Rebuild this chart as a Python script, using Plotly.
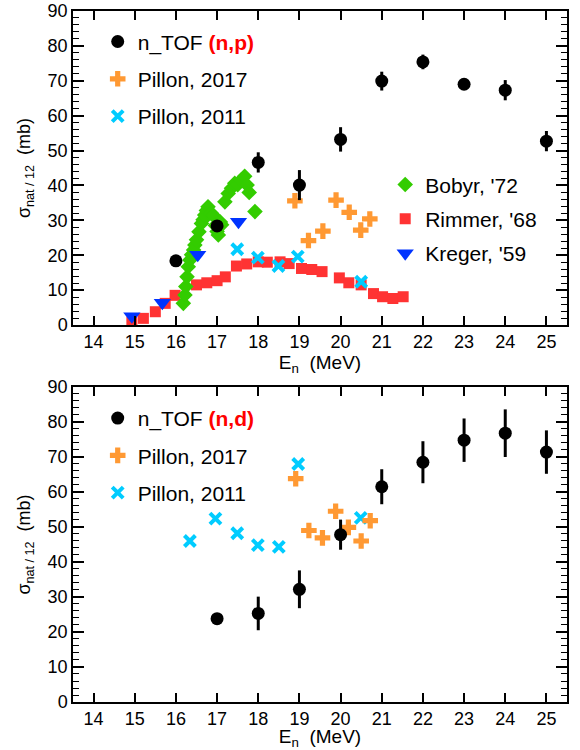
import plotly.graph_objects as go

# ---------------- (n,p) panel data ----------------
ntof_np_x = [16, 17, 18, 19, 20, 21, 22, 23, 24, 25]
ntof_np_y = [18.4, 28.4, 46.6, 40.1, 53.2, 69.9, 75.4, 69.0, 67.3, 52.7]
ntof_np_err = [0.8, 0.8, 2.9, 4.3, 3.5, 2.7, 2.1, 1.5, 2.9, 2.9]

pillon17_np_x = [18.89, 19.22, 19.57, 19.89, 20.21, 20.49, 20.71]
pillon17_np_y = [35.6, 24.2, 26.9, 35.8, 32.3, 27.2, 30.4]

pillon11_np_x = [17.49, 17.99, 18.49, 18.96, 20.50]
pillon11_np_y = [21.7, 19.3, 16.9, 19.6, 12.4]

bobyr_x = [16.18, 16.22, 16.24, 16.27, 16.30, 16.34, 16.38, 16.43, 16.46, 16.50,
           16.56, 16.62, 16.66, 16.70, 16.74, 16.78, 16.86, 16.90, 16.96, 17.00,
           17.03, 17.08, 17.11, 17.19, 17.27, 17.35, 17.43, 17.50, 17.59, 17.67,
           17.73, 17.78, 17.92]
bobyr_y = [6.2, 8.6, 11.0, 13.8, 16.7, 18.6, 20.1, 21.5, 22.9, 24.4,
           26.7, 29.1, 30.2, 31.5, 32.8, 33.9, 32.0, 31.5, 28.5, 26.8,
           25.8, 29.5, 28.7, 35.3, 37.7, 39.2, 40.6, 40.2, 41.6, 42.6,
           40.1, 38.0, 32.5]

rimmer_x = [14.93, 15.21, 15.50, 15.74, 15.98, 16.50, 16.75, 17.00, 17.20, 17.47,
            17.72, 18.00, 18.22, 18.53, 18.75, 19.05, 19.30, 19.55, 19.97, 20.20,
            20.50, 20.80, 21.02, 21.27, 21.52]
rimmer_y = [0.9, 1.9, 3.8, 6.2, 8.5, 11.5, 12.1, 12.7, 13.8, 16.9,
            17.5, 18.1, 18.0, 18.1, 17.6, 16.2, 15.9, 15.3, 13.5, 12.1,
            11.5, 9.0, 8.1, 7.6, 8.1]

kreger_x = [14.93, 15.67, 16.53, 17.52]
kreger_y = [2.5, 6.4, 20.1, 29.6]

# ---------------- (n,d) panel data ----------------
ntof_nd_x = [17, 18, 19, 20, 21, 22, 23, 24, 25]
ntof_nd_y = [23.8, 25.3, 32.2, 47.8, 61.5, 68.5, 74.8, 76.8, 71.4]
ntof_nd_err = [0.8, 4.8, 5.4, 4.3, 5.0, 6.0, 6.2, 6.8, 6.2]

pillon17_nd_x = [18.91, 19.23, 19.56, 19.88, 20.19, 20.50, 20.72]
pillon17_nd_y = [63.8, 49.0, 46.9, 54.5, 49.9, 46.0, 51.8]

pillon11_nd_x = [16.34, 16.96, 17.49, 17.99, 18.50, 18.97, 20.49]
pillon11_nd_y = [46.0, 52.4, 48.2, 44.8, 44.3, 68.0, 52.6]

x_ticks = list(range(14, 26))

# ---------------- styles ----------------
C_BLACK = "black"
C_ORANGE = "#ff9933"
C_CYAN = "#00ccff"
C_GREEN = "#33cc00"
C_RED = "#ff3333"
C_BLUE = "#0033ff"
FONT = "Liberation Sans, Arial, Helvetica, sans-serif"

fig = go.Figure()

def add(x, y, name, symbol, color, size, xa, ya, legend, rank, err=None, lw=0):
    kw = {}
    if err is not None:
        kw["error_y"] = dict(type="data", array=err, visible=True,
                             color=color, thickness=3, width=0)
    fig.add_trace(go.Scatter(
        x=x, y=y, mode="markers", name=name,
        marker=dict(symbol=symbol, color=color, size=size,
                    line=dict(width=lw, color=color)),
        xaxis=xa, yaxis=ya, legend=legend, legendgroup=name + legend,
        legendrank=rank, **kw))

# top panel (n,p)
add(rimmer_x, rimmer_y, "Rimmer, '68", "square", C_RED, 11, "x", "y", "legend2", 2)
add(bobyr_x, bobyr_y, "Bobyr, '72", "diamond", C_GREEN, 12, "x", "y", "legend2", 1)
add(kreger_x, kreger_y, "Kreger, '59", "triangle-down", C_BLUE, 15, "x", "y", "legend2", 3)
add(pillon11_np_x, pillon11_np_y, "Pillon, 2011", "x-thin", C_CYAN, 11, "x", "y", "legend", 3, lw=4)
add(pillon17_np_x, pillon17_np_y, "Pillon, 2017", "cross", C_ORANGE, 13, "x", "y", "legend", 2)
add(ntof_np_x, ntof_np_y,
    "n_TOF <b><span style='color:#ff0000'>(n,p)</span></b>", "circle", C_BLACK, 13,
    "x", "y", "legend", 1, err=ntof_np_err)

# bottom panel (n,d)
add(pillon11_nd_x, pillon11_nd_y, "Pillon, 2011", "x-thin", C_CYAN, 11, "x2", "y2", "legend3", 3, lw=4)
add(pillon17_nd_x, pillon17_nd_y, "Pillon, 2017", "cross", C_ORANGE, 13, "x2", "y2", "legend3", 2)
add(ntof_nd_x, ntof_nd_y,
    "n_TOF <b><span style='color:#ff0000'>(n,d)</span></b>", "circle", C_BLACK, 13,
    "x2", "y2", "legend3", 1, err=ntof_nd_err)

xcommon = dict(range=[13.5, 25.5], tickvals=x_ticks, ticks="inside", ticklen=9,
               tickwidth=1.5, tickcolor="black", showline=True, linecolor="black",
               linewidth=1.5, mirror="ticks", showgrid=False, zeroline=False,
               automargin=False, ticklabelstandoff=0,
               tickfont=dict(size=18, color="black"))
ycommon = dict(range=[0, 90], dtick=10, ticks="inside", ticklen=11, tickwidth=1.5,
               tickcolor="black", showline=True, linecolor="black", linewidth=1.5,
               mirror="ticks", showgrid=False, zeroline=False, automargin=False,
               minor=dict(dtick=2, ticks="inside", ticklen=6, tickwidth=1.2,
                          tickcolor="black", showgrid=False),
               tickfont=dict(size=18, color="black"))

ytitle = dict(text="σ<sub>nat / 12</sub>  (mb)", font=dict(size=18, color="black"),
              standoff=12)
xtitle = dict(text="E<sub>n</sub>  (MeV)", font=dict(size=19, color="black"),
              standoff=0)

legcommon = dict(bgcolor="rgba(0,0,0,0)", font=dict(size=21, color="black", family=FONT),
                 traceorder="grouped", xanchor="left", yanchor="top",
                 itemsizing="trace")

fig.update_layout(
    width=580, height=750,
    margin=dict(l=73, r=13, t=11, b=48, autoexpand=False),
    plot_bgcolor="white", paper_bgcolor="white",
    font=dict(family=FONT, color="black", size=18),
    xaxis=dict(**xcommon, domain=[0, 1], anchor="y", title=xtitle),
    yaxis=dict(**ycommon, domain=[0.5456, 1.0], anchor="x", title=ytitle),
    xaxis2=dict(**xcommon, domain=[0, 1], anchor="y2", title=xtitle),
    yaxis2=dict(**ycommon, domain=[0.0, 0.4559], anchor="x2", title=ytitle),
    legend=dict(**legcommon, x=0.05, y=0.985, tracegroupgap=7),
    legend2=dict(**legcommon, x=0.632, y=0.778, tracegroupgap=4),
    legend3=dict(**legcommon, x=0.05, y=0.440, tracegroupgap=7),
)

fig.write_html("out.html",
               config={"displayModeBar": False},
               post_script="document.body.style.margin='0px';"
                           "document.body.style.padding='0px';")
